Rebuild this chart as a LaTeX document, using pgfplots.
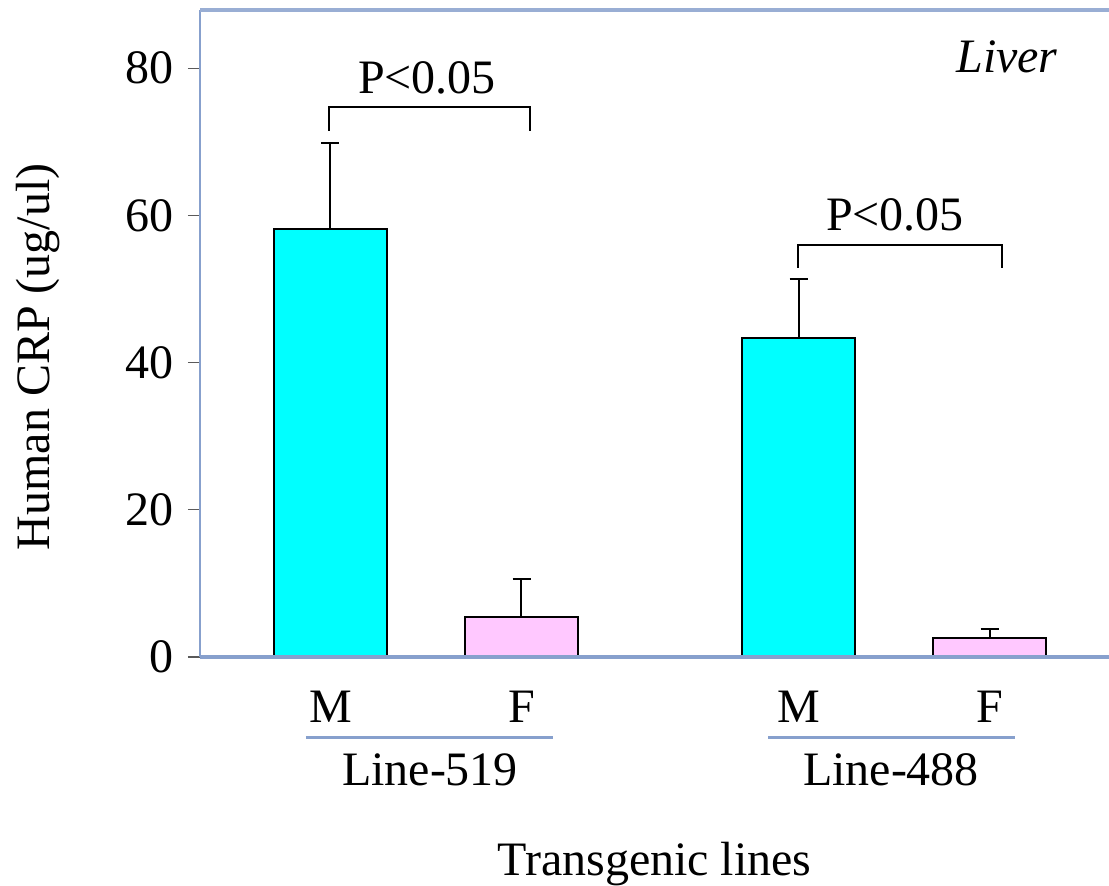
\documentclass[border=0pt]{standalone}
\usepackage{pgfplots}
\pgfplotsset{compat=1.18}
\usepackage{fontspec}
\setmainfont{Liberation Serif}

\definecolor{frameblue}{RGB}{135,160,205}
\definecolor{barcyan}{RGB}{0,255,255}
\definecolor{barpink}{RGB}{255,200,255}
\definecolor{tickgray}{RGB}{90,90,90}
\newcommand{\bigfont}{\fontsize{24}{28}\selectfont}

\begin{document}
\begin{tikzpicture}
\begin{axis}[
  name=ax,
  scale only axis,
  width=454.5pt, height=323.5pt,
  xmin=2.00, xmax=11.09,
  ymin=0, ymax=87.9,
  axis line style={draw=none},
  clip=false,
  ybar, bar width=1.13, bar shift=0pt,
  ytick={0,20,40,60,80},
  ytick pos=left,
  tick align=outside,
  major tick length=6pt,
  y tick style={tickgray, line width=0.6pt},
  xtick={3.305,5.215,7.985,9.895},
  xticklabels={M,F,M,F},
  x tick style={draw=none},
  xticklabel style={anchor=base, yshift=-27pt},
  yticklabel style={xshift=-3.5pt},
  ticklabel style={font=\bigfont},
  /pgf/number format/assume math mode=true,
  xlabel={Transgenic lines},
  ylabel={Human CRP (ug/ul)},
  label style={font=\bigfont},
  xlabel style={at={(axis description cs:0.5,-0.337)}, anchor=base},
  ylabel style={at={(axis description cs:-0.178,0.464)}, anchor=center},
]
% males
\addplot[fill=barcyan, draw=black, line width=1pt,
  error bars/.cd, y dir=plus, y explicit,
  error bar style={black, line width=1pt},
  error mark options={black, line width=1pt, mark size=4.5pt, rotate=90}]
  coordinates {(3.305,58.2) +- (0,11.6) (7.985,43.3) +- (0,8.1)};
% females
\addplot[fill=barpink, draw=black, line width=1pt,
  error bars/.cd, y dir=plus, y explicit,
  error bar style={black, line width=1pt},
  error mark options={black, line width=1pt, mark size=4.5pt, rotate=90}]
  coordinates {(5.215,5.4) +- (0,5.2) (9.895,2.6) +- (0,1.2)};

% frame
\draw[frameblue, line width=0.8pt] (rel axis cs:0,0) -- (rel axis cs:0,1);
\draw[frameblue!85, line width=2pt] (rel axis cs:0,1) -- (rel axis cs:1,1);
\draw[frameblue, line width=2pt] (rel axis cs:0,0) -- (rel axis cs:1,0);

% significance
\draw[black, line width=1pt] (axis cs:3.29,71.5) -- (axis cs:3.29,74.7) -- (axis cs:5.30,74.7) -- (axis cs:5.30,71.5);
\node[font=\bigfont] at (axis cs:4.27,78.7) {P<0.05};
\draw[black, line width=1pt] (axis cs:7.98,52.9) -- (axis cs:7.98,56.0) -- (axis cs:10.02,56.0) -- (axis cs:10.02,52.9);
\node[font=\bigfont] at (axis cs:8.95,60.1) {P<0.05};
\node[font=\bigfont\itshape] at (axis cs:10.07,81.5) {Liver};

% group labels
\draw[frameblue, line width=1.5pt] (axis cs:3.06,-11.0) -- (axis cs:5.53,-11.0);
\draw[frameblue, line width=1.5pt] (axis cs:7.68,-11.0) -- (axis cs:10.15,-11.0);
\node[font=\bigfont, anchor=base] at (axis cs:4.30,-17.5) {Line-519};
\node[font=\bigfont, anchor=base] at (axis cs:8.91,-17.5) {Line-488};
\end{axis}
\pgfresetboundingbox
\useasboundingbox ([xshift=-100pt,yshift=-114.5pt]ax.south west) rectangle ([yshift=5pt]ax.north east);
\end{tikzpicture}
\end{document}
